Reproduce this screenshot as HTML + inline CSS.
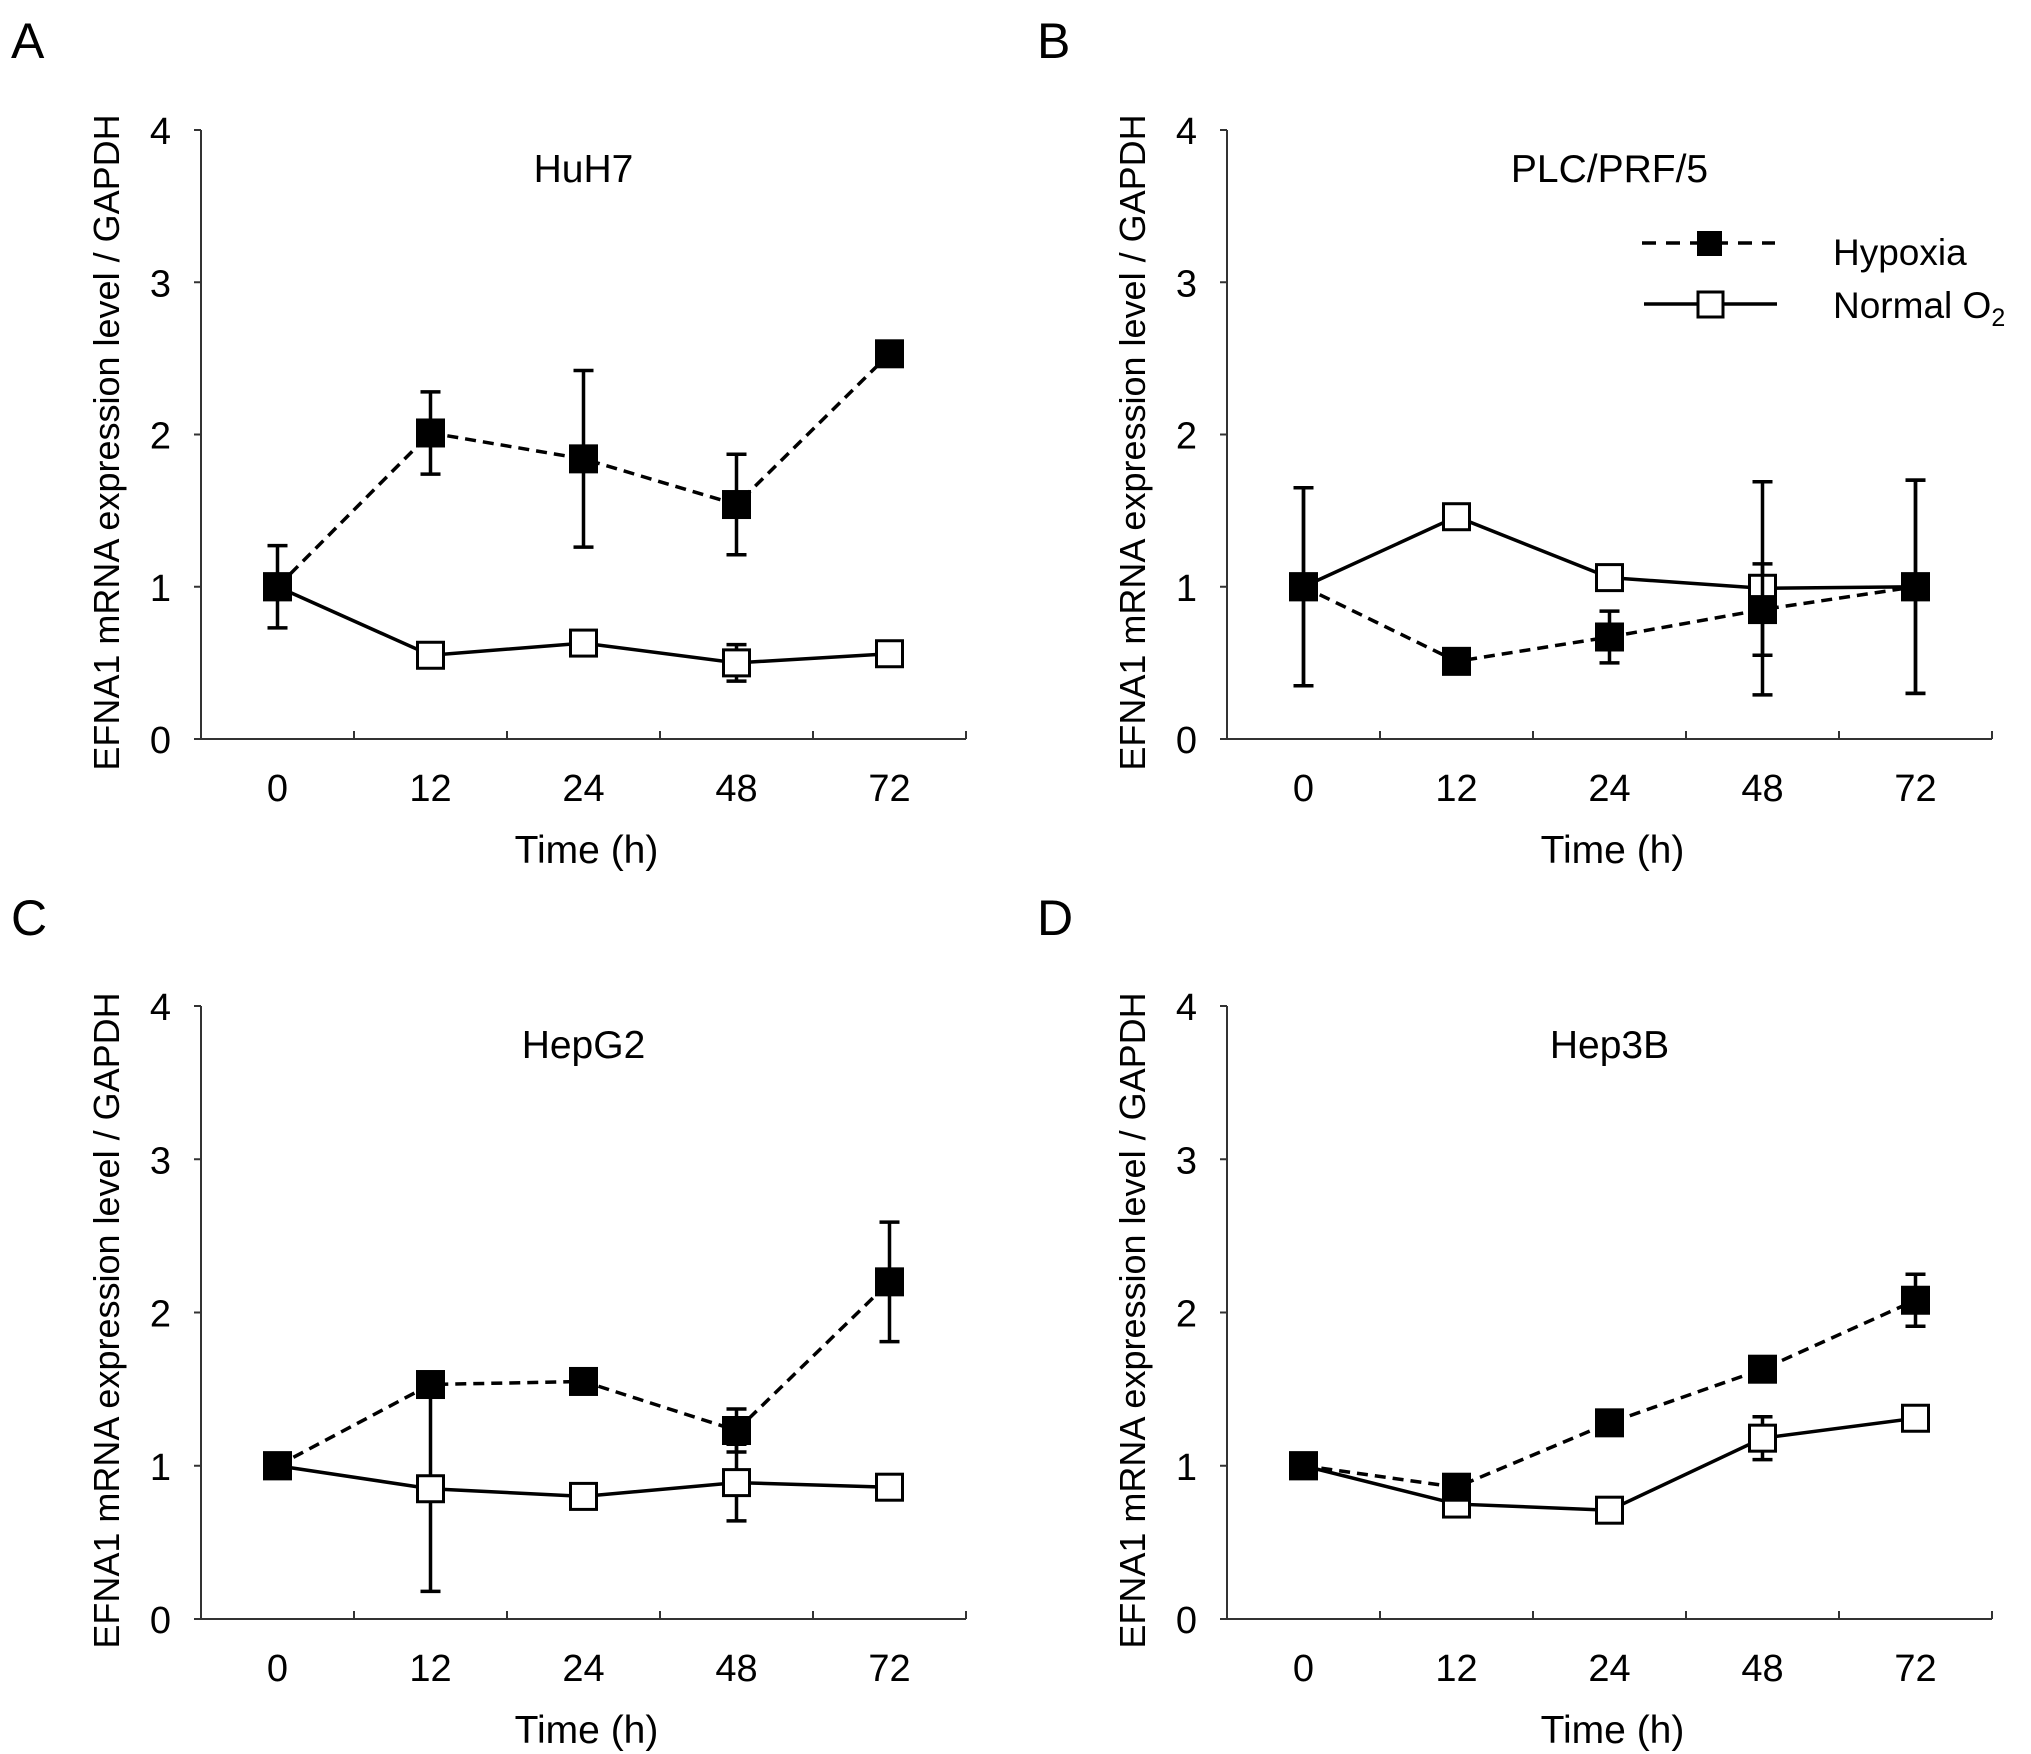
<!DOCTYPE html>
<html><head><meta charset="utf-8"><style>
html,body{margin:0;padding:0;background:#fff}
svg{display:block}
text{font-family:"Liberation Sans",Arial,sans-serif;fill:#000}
</style></head><body>
<svg id="fig" width="2031" height="1754" viewBox="0 0 2031 1754" xmlns="http://www.w3.org/2000/svg"></svg>
<script>
const categories = ["0","12","24","48","72"];
const yTicks = [0,1,2,3,4];
const panelLetters = ["A","B","C","D"];
const panelTitles = ["HuH7","PLC/PRF/5","HepG2","Hep3B"];
const hypA = [1.0,2.01,1.84,1.54,2.53];
const hypAErr = [0.27,0.27,0.58,0.33,0];
const norA = [1.0,0.55,0.63,0.50,0.56];
const norAErr = [0,0,0.08,0.12,0];
const hypB = [1.0,0.51,0.67,0.85,1.0];
const hypBErr = [0.65,0,0.17,0.30,0.70];
const norB = [1.0,1.46,1.06,0.99,1.0];
const norBErr = [0.65,0,0.08,0.70,0.70];
const hypC = [1.0,1.53,1.55,1.23,2.20];
const hypCErr = [0,0,0,0.14,0.39];
const norC = [1.0,0.85,0.80,0.89,0.86];
const norCErr = [0,0.67,0,0.25,0];
const hypD = [1.0,0.86,1.28,1.63,2.08];
const hypDErr = [0,0,0,0.05,0.17];
const norD = [1.0,0.75,0.71,1.18,1.31];
const norDErr = [0,0,0,0.14,0];

const NS="http://www.w3.org/2000/svg";
const svg=document.getElementById('fig');
function mk(tag,attrs,parent){const e=document.createElementNS(NS,tag);for(const k in attrs)e.setAttribute(k,attrs[k]);(parent||svg).appendChild(e);return e;}

const panels=[
 {ox:201,y0:739,y4:130,hyp:hypA,hypE:hypAErr,nor:norA,norE:norAErr,lx:31,ly:36},
 {ox:1227,y0:739,y4:130,hyp:hypB,hypE:hypBErr,nor:norB,norE:norBErr,lx:1057,ly:36},
 {ox:201,y0:1619,y4:1006,hyp:hypC,hypE:hypCErr,nor:norC,norE:norCErr,lx:31,ly:913},
 {ox:1227,y0:1619,y4:1006,hyp:hypD,hypE:hypDErr,nor:norD,norE:norDErr,lx:1057,ly:913}
];
const W=765;
panels.forEach((p,i)=>{
  const g=mk('g',{});
  
  
  const band=W/categories.length;
  const xS=j=>p.ox+band*(j+0.5);
  const yS=v=>p.y0-(p.y0-p.y4)*v/4;
  const L=mk('text',{x:p.lx-20,y:p.ly+22,'font-size':50,'text-anchor':'start'},g);L.textContent=panelLetters[i];
  
  const T=mk('text',{x:p.ox+band*2.5,y:p.y4+52,'font-size':39,'text-anchor':'middle'},g);T.textContent=panelTitles[i];
  
  const ax=mk('path',{d:`M${p.ox},${p.y4}V${p.y0}H${p.ox+W}`,stroke:'#333',fill:'none','stroke-width':2},g);
  
  yTicks.forEach(t=>{
    mk('line',{x1:p.ox-7,x2:p.ox,y1:yS(t),y2:yS(t),stroke:'#333','stroke-width':2},g);
    const tt=mk('text',{x:p.ox-30,y:yS(t)+14,'font-size':38,'text-anchor':'end'},g);tt.textContent=t;
    
  });
  for(let j=1;j<=categories.length;j++) mk('line',{x1:p.ox+band*j,x2:p.ox+band*j,y1:p.y0-8,y2:p.y0,stroke:'#333','stroke-width':2},g);
  categories.forEach((c,j)=>{
    const tt=mk('text',{x:xS(j),y:p.y0+62,'font-size':38,'text-anchor':'middle'},g);tt.textContent=c;
    
  });
  const xt=mk('text',{x:p.ox+band*2.5+3,y:p.y0+124,'font-size':39,'text-anchor':'middle'},g);xt.textContent='Time (h)';
  
  const cy=(p.y0+p.y4)/2+8;
  const yt=mk('text',{x:0,y:0,'font-size':36,'text-anchor':'middle'},g);
  yt.textContent='EFNA1 mRNA expression level / GAPDH';
  
  yt.setAttribute('transform',`translate(${p.ox-82},${cy}) rotate(-90)`);
  function series(vals,errs,name,dash,fill){
    const sg=mk('g',{},g);
    
    vals.forEach((v,j)=>{ if(errs[j]>0){
      const x=xS(j),a=yS(v+errs[j]),b=yS(Math.max(0,v-errs[j]));
      mk('path',{d:`M${x},${a}V${b}M${x-10},${a}H${x+10}M${x-10},${b}H${x+10}`,stroke:'#000','stroke-width':3.5,fill:'none'},sg);
    }});
    const d=vals.map((v,j)=>(j?'L':'M')+xS(j)+','+yS(v)).join('');
    const ln=mk('path',{d,stroke:'#000','stroke-width':3.5,fill:'none','stroke-dasharray':dash},sg);
    
    vals.forEach((v,j)=>{
      const r=mk('rect',{x:xS(j)-13,y:yS(v)-13,width:26,height:26,fill:fill,stroke:'#000','stroke-width':3},sg);
      
    });
  }
  series(p.nor,p.norE,'normal-o2','none','#fff');
  series(p.hyp,p.hypE,'hypoxia','11,7','#000');
});
const lg=mk('g',{});

mk('path',{d:'M1642,243H1775',stroke:'#000','stroke-width':3.5,'stroke-dasharray':'14,10'},lg);
mk('rect',{x:1697,y:231,width:25,height:25,fill:'#000'},lg);
const t1=mk('text',{x:1833,y:265,'font-size':37},lg);t1.textContent='Hypoxia';

mk('path',{d:'M1644,304H1777',stroke:'#000','stroke-width':3.5},lg);
mk('rect',{x:1698,y:292,width:25,height:25,fill:'#fff',stroke:'#000','stroke-width':3},lg);
const t2=mk('text',{x:1833,y:318,'font-size':37},lg);t2.innerHTML='Normal O<tspan font-size="25" dy="8">2</tspan>';

</script>
</body></html>
